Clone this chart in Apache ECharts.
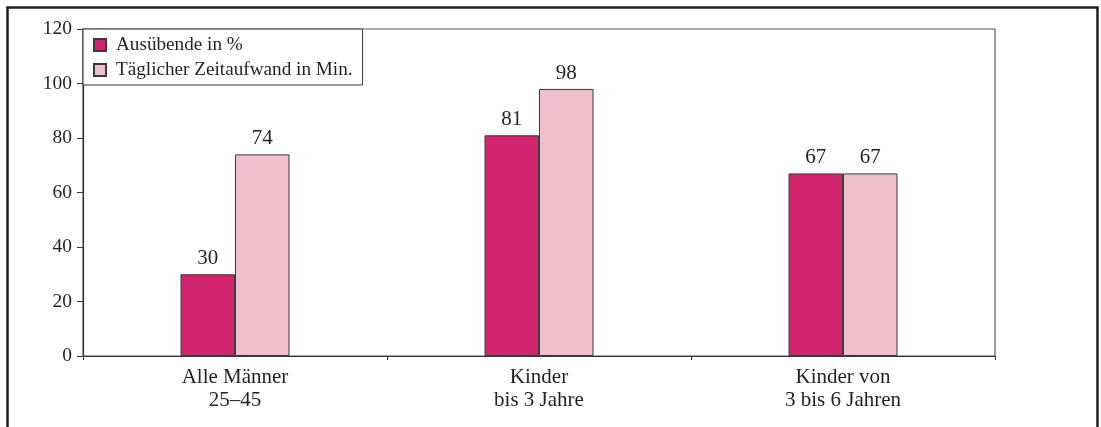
<!DOCTYPE html>
<html>
<head>
<meta charset="utf-8">
<style>
  html, body { margin: 0; padding: 0; background: #ffffff; }
  #chart { width: 1101px; height: 427px; }
</style>
<script src="https://cdn.jsdelivr.net/npm/echarts@6/dist/echarts.min.js"></script>
</head>
<body>
<div id="chart"></div>
<script>
// Categories and values
const categories = ['Alle Männer\n25–45', 'Kinder\nbis 3 Jahre', 'Kinder von\n3 bis 6 Jahren'];
const seriesNames = ['Ausübende in %', 'Täglicher Zeitaufwand in Min.'];
const ausuebende = [30, 81, 67];
const zeitaufwand = [74, 98, 67];
const yTicks = [0, 20, 40, 60, 80, 100, 120];

const FONT = '"Liberation Serif", "DejaVu Serif", serif';
const INK = '#231f20';
const MAGENTA = '#d3246f';
const PINK = '#efbfcb';

const chart = echarts.init(document.getElementById('chart'), null, { renderer: 'canvas' });

const barStyle = (color) => ({
  color: color,
  borderColor: '#3a3a3a',
  borderWidth: 1
});

const valueLabel = {
  show: true,
  position: 'top',
  distance: 5,
  fontFamily: FONT,
  fontSize: 21,
  color: INK
};

chart.setOption({
  animation: false,
  backgroundColor: '#ffffff',
  textStyle: { fontFamily: FONT, color: INK },
  graphic: [{
    type: 'rect',
    silent: true,
    z: 100,
    shape: { x: 7.5, y: 7.5, width: 1090, height: 500 },
    style: { fill: 'none', stroke: INK, lineWidth: 2.5 }
  }],
  grid: {
    left: 83,
    top: 29,
    width: 912,
    height: 327,
    show: true,
    borderColor: '#5a5a5a',
    borderWidth: 1.2,
    backgroundColor: 'transparent'
  },
  legend: {
    orient: 'vertical',
    left: 83,
    top: 29,
    padding: [5, 10, 4, 10],
    itemGap: 3,
    itemWidth: 12,
    itemHeight: 12,
    icon: 'rect',
    backgroundColor: '#ffffff',
    borderColor: '#333333',
    borderWidth: 1,
    z: 10,
    textStyle: { fontFamily: FONT, fontSize: 19.2, color: INK, lineHeight: 22, padding: [0, 0, 0, 5] },
    data: seriesNames
  },
  xAxis: {
    type: 'category',
    data: categories,
    boundaryGap: true,
    axisLine: { lineStyle: { color: '#333333', width: 1.2 } },
    axisTick: { show: true, length: 4, lineStyle: { color: '#333333' } },
    axisLabel: {
      fontFamily: FONT,
      fontSize: 21,
      lineHeight: 23,
      color: INK,
      margin: 10
    },
    splitLine: { show: false }
  },
  yAxis: {
    type: 'value',
    min: 0,
    max: 120,
    interval: 20,
    axisLine: { show: true, lineStyle: { color: '#333333', width: 1.2 } },
    axisTick: { show: true, length: 6, lineStyle: { color: '#333333' } },
    axisLabel: {
      fontFamily: FONT,
      fontSize: 19.5,
      color: INK,
      margin: 11,
      formatter: (v) => (yTicks.includes(v) ? String(v) : '')
    },
    splitLine: { show: false }
  },
  series: [
    {
      name: seriesNames[0],
      type: 'bar',
      data: ausuebende,
      barWidth: 54.5,
      barGap: '0%',
      itemStyle: barStyle(MAGENTA),
      label: valueLabel
    },
    {
      name: seriesNames[1],
      type: 'bar',
      data: zeitaufwand,
      barWidth: 54.5,
      barGap: '0%',
      itemStyle: barStyle(PINK),
      label: valueLabel
    }
  ]
});
</script>
</body>
</html>
